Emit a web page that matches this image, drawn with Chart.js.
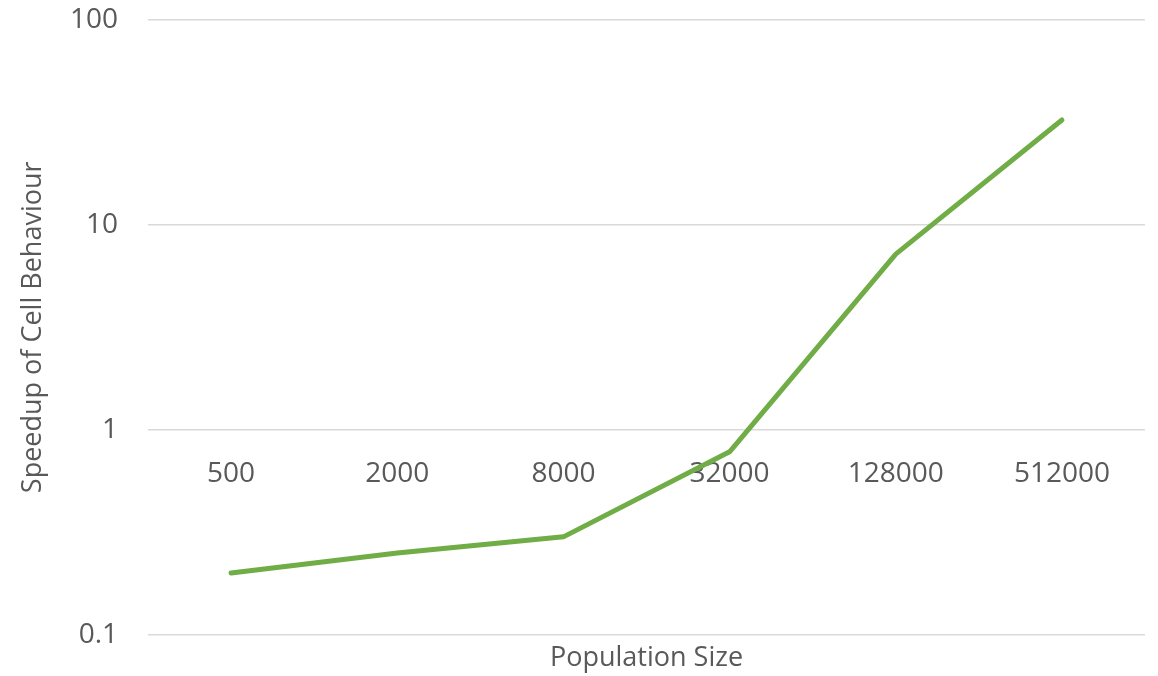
<!DOCTYPE html>
<html>
<head>
<meta charset="utf-8">
<title>Speedup of Cell Behaviour</title>
<script src="https://cdn.jsdelivr.net/npm/chart.js@4/dist/chart.umd.min.js"></script>
<style>
  html, body { margin:0; padding:0; background:#fff; }
  canvas { display:block; }
</style>
</head>
<body>
<canvas id="speedChart" width="1158" height="676"></canvas>
<script>
// ── Data ─────────────────────────────────────────────────────
const POP_SIZES = ['500', '2000', '8000', '32000', '128000', '512000'];
const SPEEDUP   = [0.2, 0.25, 0.3, 0.78, 7.2, 32.5];
const Y_TICKS   = [0.1, 1, 10, 100];

// ── Look ─────────────────────────────────────────────────────
const FONT  = "'Open Sans', sans-serif";
const TEXT  = '#595959';
const GRID  = '#d9d9d9';
const GREEN = '#70AD47';
const LEFT_PAD = 17;

new Chart(document.getElementById('speedChart'), {
  type:'line',
  data:{
    labels: POP_SIZES,
    datasets:[{
      label:'Speedup', data: SPEEDUP,
      borderColor: GREEN, borderWidth:5,
      borderCapStyle:'round', borderJoinStyle:'round',
      pointRadius:0, tension:0, fill:false
    }]
  },
  options:{
    responsive:false, animation:false,
    layout:{ padding:{ top:20, right:13, left:LEFT_PAD, bottom:0 } },
    plugins:{ legend:{display:false}, tooltip:{enabled:false} },
    scales:{
      // category labels sit on the y = 1 line
      x:{
        type:'category', offset:true,
        position:{ y:1 },
        grid:{ display:false, drawTicks:false },
        border:{ display:false },
        ticks:{ color:TEXT, font:{ family:FONT, size:28 }, padding:27, maxRotation:0 }
      },
      // bottom axis only carries the title
      xTitle:{
        type:'category', labels: POP_SIZES, position:'bottom', offset:true,
        grid:{ display:false, drawTicks:false },
        border:{ display:false },
        ticks:{ display:false },
        title:{ display:true, text:'Population Size', color:TEXT,
                font:{ family:FONT, size:27 }, padding:{ top:8, bottom:1 } }
      },
      y:{
        type:'logarithmic', min:0.1, max:100,
        afterBuildTicks: s => { s.ticks = Y_TICKS.map(v => ({ value:v })); },
        // fixed gutter for title + labels, no extra padding above/below
        afterFit: s => { s.width = 148 - LEFT_PAD; s.paddingTop = 0; s.paddingBottom = 0; },
        grid:{ color:GRID, lineWidth:1.5, drawTicks:false },
        border:{ display:false },
        ticks:{ color:TEXT, font:{ family:FONT, size:28 }, padding:30,
                callback: v => String(v) },
        title:{ display:true, text:'Speedup of Cell Behaviour', color:TEXT,
                font:{ family:FONT, size:27 }, padding:{ top:0, bottom:0 } }
      }
    }
  }
});
</script>
</body>
</html>
